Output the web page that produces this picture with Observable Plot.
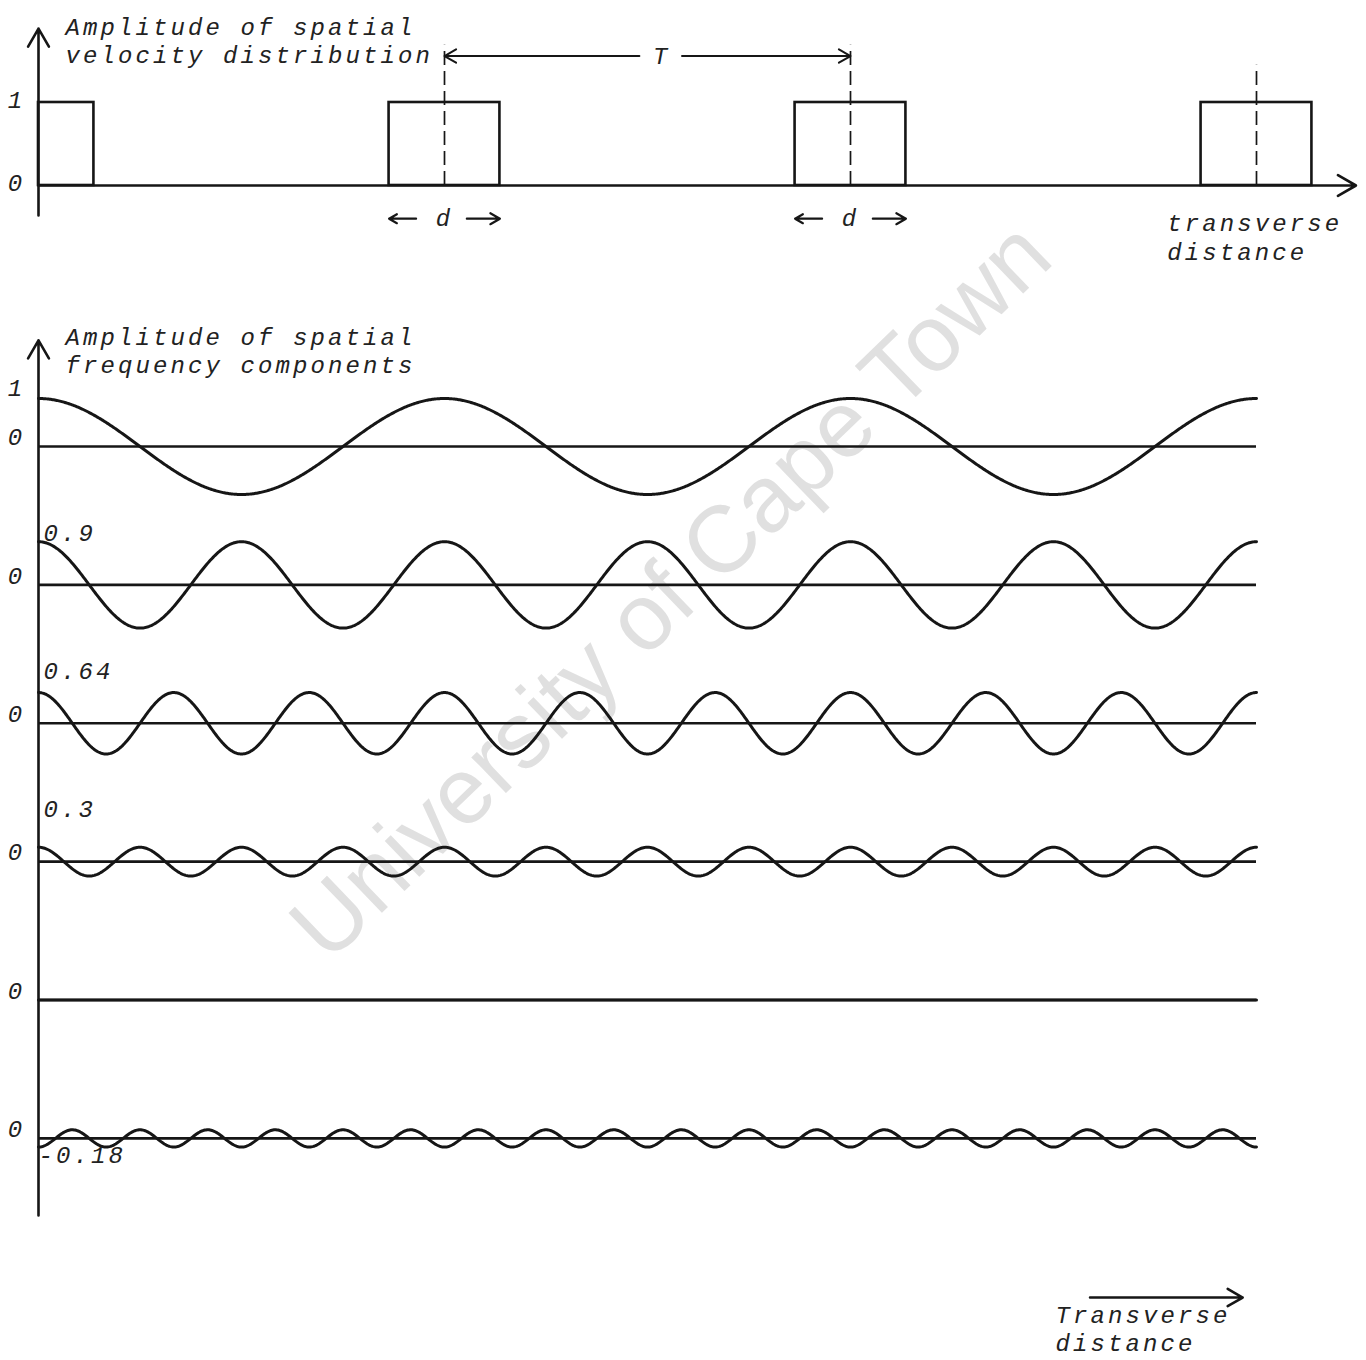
<!DOCTYPE html>
<html>
<head>
<meta charset="utf-8">
<script src="https://cdn.jsdelivr.net/npm/d3@7"></script>
<script src="https://cdn.jsdelivr.net/npm/@observablehq/plot@0.6"></script>
<style>
  html, body { margin: 0; padding: 0; background: #fff; }
  #page { position: relative; width: 1366px; height: 1360px; overflow: hidden; background: #fff; }
  #wm {
    position: absolute; left: 670px; top: 590px;
    transform: translate(-50%, -50%) rotate(-44deg);
    font-family: "Liberation Sans", Arial, sans-serif; font-size: 94px;
    color: #e0e0e0; white-space: nowrap; z-index: 0;
  }
  #top, #bottom { position: relative; z-index: 1; }
  #top svg, #bottom svg { display: block; background: transparent; }
  #top svg text, #bottom svg text { letter-spacing: 3.1px; }
</style>
</head>
<body>
<div id="page">
  <div id="wm">University of Cape Town</div>
  <div id="top"></div>
  <div id="bottom"></div>
</div>
<script>
// ---------------- data ----------------
// top panel: rectangular velocity distribution (x in units of the period T)
const pulseCenters = [0, 1, 2, 3];
const pulseWidth = 0.273;          // d / T
const pulseHeight = 1;
const topTicks = [0, 1];
const topTitle = ["Amplitude of spatial", "velocity distribution"];
const topXLabel = ["transverse", "distance"];

// bottom panel: spatial frequency components
const harmonics = [1, 2, 3, 4, 5, 6];
const amplitudes = [1, 0.9, 0.64, 0.3, 0, -0.18];
const amplitudeLabels = ["1", "0.9", "0.64", "0.3", "", "-0.18"];
const periodsShown = 3;
const bottomTitle = ["Amplitude of spatial", "frequency components"];
const bottomXLabel = ["Transverse", "distance"];

// ---------------- styling ----------------
const ink = "#161616";
const txt = {fontFamily: "'Liberation Mono', 'DejaVu Sans Mono', monospace", fontStyle: "italic", fontSize: 24, fill: "#222"};
const lineW = 2.6;
const pxPerT = 406;

// ---------------- top panel ----------------
const topAxisY = [-0.36, 1.89];
const topAxisX = 3.245;
const topPlot = Plot.plot({
  width: 1366, height: 290,
  x: {domain: [0, 3.25], range: [38, 38 + 3.25 * pxPerT], axis: null},
  y: {domain: [0, 1], range: [185, 102], axis: null},
  style: {background: "transparent", overflow: "visible"},
  marks: [
    Plot.rect(pulseCenters, {
      x1: c => Math.max(0, c - pulseWidth / 2), x2: c => c + pulseWidth / 2,
      y1: () => 0, y2: () => pulseHeight,
      fill: "none", stroke: ink, strokeWidth: lineW
    }),
    Plot.ruleX(pulseCenters.slice(1), {
      x: c => c, y1: () => 0, y2: c => (c <= 2 ? 1.69 : 1.45),
      stroke: ink, strokeWidth: 1.7, strokeDasharray: "14,6"
    }),
    // axes
    Plot.arrow([0], {x1: () => 0, y1: () => 0, x2: () => topAxisX, y2: () => 0, stroke: ink, strokeWidth: lineW, headLength: 12}),
    Plot.arrow([0], {x1: () => 0, y1: () => topAxisY[0], x2: () => 0, y2: () => topAxisY[1], stroke: ink, strokeWidth: lineW, headLength: 12}),
    // period T annotation
    Plot.arrow([1], {x1: () => 1.48, y1: () => 1.56, x2: c => c, y2: () => 1.56, stroke: ink, strokeWidth: 2, headLength: 10}),
    Plot.arrow([2], {x1: () => 1.585, y1: () => 1.56, x2: c => c, y2: () => 1.56, stroke: ink, strokeWidth: 2, headLength: 10}),
    Plot.text(["T"], {x: () => 1.535, y: () => 1.56, text: d => d, ...txt}),
    // pulse width d annotations
    Plot.arrow(pulseCenters.slice(1, 3), {x1: c => c - 0.07, x2: c => c - pulseWidth / 2, y1: () => -0.4, y2: () => -0.4, stroke: ink, strokeWidth: 2.2, headLength: 8}),
    Plot.arrow(pulseCenters.slice(1, 3), {x1: c => c + 0.055, x2: c => c + pulseWidth / 2, y1: () => -0.4, y2: () => -0.4, stroke: ink, strokeWidth: 2.2, headLength: 8}),
    Plot.text(pulseCenters.slice(1, 3), {x: c => c, y: () => -0.4, text: () => "d", ...txt}),
    // tick labels
    Plot.text(topTicks, {x: () => 0, y: d => d, text: d => String(d), dx: -22, dy: -2, ...txt}),
    // titles
    Plot.text([topTitle.join("\n")], {x: () => 0, y: () => topAxisY[1], dx: 27, dy: -14, text: d => d, lineAnchor: "top", textAnchor: "start", lineHeight: 1.17, ...txt}),
    Plot.text([topXLabel.join("\n")], {x: () => 2.78, y: () => 0, dy: 25, text: d => d, lineAnchor: "top", textAnchor: "start", lineHeight: 1.2, ...txt})
  ]
});
document.getElementById("top").appendChild(topPlot);

// ---------------- bottom panel ----------------
const rowGap = 2.883;   // vertical spacing between component rows (amplitude units)
const rows = harmonics.map((n, i) => ({n, a: amplitudes[i], label: amplitudeLabels[i], base: -i * rowGap}));
const samples = d3.range(0, 1201).map(k => (k * periodsShown) / 1200);
const waves = rows.flatMap(r => samples.map(x => ({n: r.n, x, y: r.base + r.a * Math.cos(2 * Math.PI * r.n * x)})));
const botAxisY = [-16.02, 2.21];
const arrowRow = -17.73;

const bottomPlot = Plot.plot({
  width: 1366, height: 1070,
  x: {domain: [0, 3.25], range: [38, 38 + 3.25 * pxPerT], axis: null},
  y: {domain: [0, 1], range: [156, 108], axis: null},
  style: {background: "transparent", overflow: "visible"},
  marks: [
    Plot.ruleY(rows, {y: "base", x1: () => 0, x2: () => periodsShown, stroke: ink, strokeWidth: lineW}),
    Plot.line(waves, {x: "x", y: "y", z: "n", stroke: ink, strokeWidth: 3}),
    Plot.arrow([0], {x1: () => 0, y1: () => botAxisY[0], x2: () => 0, y2: () => botAxisY[1], stroke: ink, strokeWidth: lineW, headLength: 12}),
    // zero labels
    Plot.text(rows, {x: () => 0, y: "base", text: () => "0", dx: -22, dy: -9, ...txt}),
    // first row amplitude label (left of axis)
    Plot.text(rows.slice(0, 1), {x: () => 0, y: d => d.base + d.a, text: "label", dx: -22, dy: -10, ...txt}),
    // other positive amplitudes (right of axis, above curve)
    Plot.text(rows.filter((r, i) => i > 0 && r.a > 0), {x: () => 0, y: d => d.base + 1, text: "label", dx: 5, dy: -4, textAnchor: "start", ...txt}),
    // negative amplitudes (below baseline)
    Plot.text(rows.filter(r => r.a < 0), {x: () => 0, y: "base", text: "label", dx: 0, dy: 17, textAnchor: "start", ...txt}),
    // title
    Plot.text([bottomTitle.join("\n")], {x: () => 0, y: () => botAxisY[1], dx: 27, dy: -15, text: d => d, lineAnchor: "top", textAnchor: "start", lineHeight: 1.17, ...txt}),
    // transverse distance arrow and label
    Plot.arrow([0], {x1: () => 2.59, y1: () => arrowRow, x2: () => 2.966, y2: () => arrowRow, stroke: ink, strokeWidth: lineW, headLength: 10}),
    Plot.text([bottomXLabel.join("\n")], {x: () => 2.505, y: () => arrowRow, dy: 6, text: d => d, lineAnchor: "top", textAnchor: "start", lineHeight: 1.15, ...txt})
  ]
});
document.getElementById("bottom").appendChild(bottomPlot);
</script>
</body>
</html>
